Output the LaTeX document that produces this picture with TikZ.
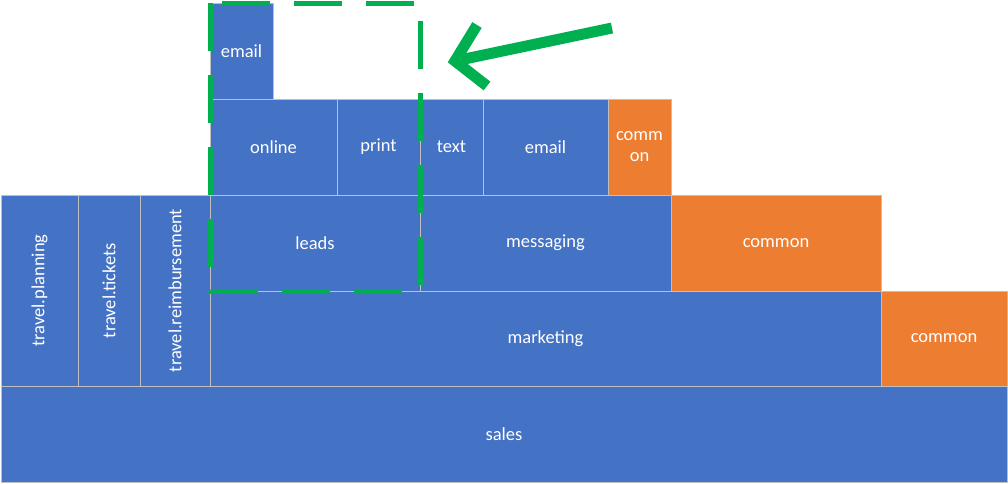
\documentclass[tikz,border=0pt]{standalone}
\usepackage{fontspec}
\setmainfont{Carlito}
\usepackage{tikz}
\usetikzlibrary{calc}
\definecolor{blk}{HTML}{4472C4}
\definecolor{org}{HTML}{ED7D31}
\definecolor{grn}{HTML}{00B050}
\definecolor{rim}{HTML}{BFBFBF}
\tikzset{box/.style={draw=rim,line width=1pt,fill=blk,text=white,anchor=north west,inner sep=0pt,outer sep=0pt,font=\fontsize{18.5}{21}\selectfont,align=center}}
\tikzset{cbox/.style={box,fill=org}}
\tikzset{vlabel/.style={rotate=90,text=white,font=\fontsize{18.5}{21}\selectfont}}
\tikzset{focus/.style={draw=grn,line width=5pt,dash pattern=on 48pt off 24pt}}
\tikzset{pointer/.style={draw=grn,line width=11pt,line join=miter}}

\begin{document}
\begin{tikzpicture}[x=1pt,y=-1pt]
			\useasboundingbox (0,0) rectangle (1008,483);
			\node[box,minimum width=1006pt,minimum height=96pt] (sales) at (1,386) {sales};
			\node[box,minimum width=671pt,minimum height=95pt] (marketing) at (210,291) {marketing};
			\node[cbox,minimum width=126pt,minimum height=95pt] (common3) at (881,291) {common};
			\node[box,minimum width=77pt,minimum height=191pt] (planning) at (1,195) {};
			\node[box,minimum width=62pt,minimum height=191pt] (tickets) at (78,195) {};
			\node[box,minimum width=70pt,minimum height=191pt] (reimb) at (140,195) {};
			\node[vlabel] (planning_t) at (planning.center) {travel.planning};
			\node[vlabel] (tickets_t) at (tickets.center) {travel.tickets};
			\node[vlabel] (reimb_t) at (reimb.center) {travel.reimbursement};
			\node[box,minimum width=210pt,minimum height=96pt] (leads) at (210,195) {leads};
			\node[box,minimum width=251pt,minimum height=96pt] (messaging) at (420,195) {messaging};
			\node[cbox,minimum width=210pt,minimum height=96pt] (common2) at (671,195) {common};
			\node[box,minimum width=127pt,minimum height=96pt] (online) at (210,99) {online};
			\node[box,minimum width=83pt,minimum height=96pt] (print) at (337,99) {print};
			\node[box,minimum width=63pt,minimum height=96pt] (text) at (420,99) {text};
			\node[box,minimum width=125pt,minimum height=96pt] (email) at (483,99) {email};
			\node[cbox,minimum width=63pt,minimum height=96pt] (common1) at (608,99) {comm\\on};
			\node[box,minimum width=63pt,minimum height=96pt] (emailtop) at (210,3) {email};
			% highlight frame
			\draw[focus] (emailtop.north west) -- (leads.south west) -- (leads.south east) -- (leads.east |- emailtop.north) -- cycle;
			% arrow
			\coordinate (tail) at (612,28);
			\coordinate (tip) at (455,61);
			\coordinate (barbup) at (477,25);
			\coordinate (barbdn) at (487,86);
			\draw[pointer] (tail) -- (tip);
			\draw[pointer] (barbup) -- (tip) -- (barbdn);
		\end{tikzpicture}
\end{document}
